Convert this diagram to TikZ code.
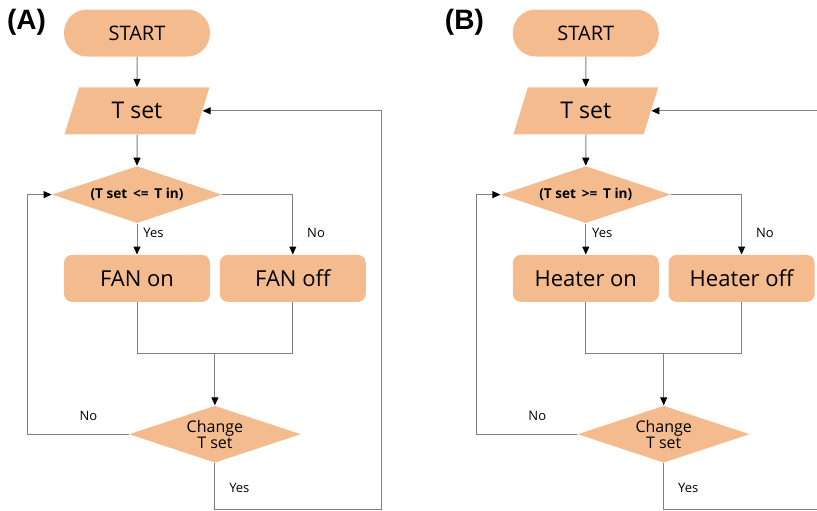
\documentclass[tikz,border=0pt]{standalone}
\usepackage{fontspec}
\setmainfont{Open Sans}
\newfontfamily\panelfont{Liberation Sans}
\usetikzlibrary{arrows.meta}
\usetikzlibrary{calc}
\usetikzlibrary{positioning}
\usetikzlibrary{shapes.geometric}

\definecolor{boxfill}{HTML}{F4BC8E}
\definecolor{linegray}{HTML}{808080}

\tikzset{
  startbox/.style={fill=boxfill, rounded corners=11.5pt, minimum width=73pt, minimum height=23.5pt, inner sep=0pt, font=\fontsize{10}{12}\selectfont},
  inputbox/.style={fill=boxfill, trapezium, trapezium left angle=69, trapezium right angle=111, trapezium stretches=true, minimum width=72.5pt, minimum height=23.5pt, inner sep=0pt, font=\fontsize{11.5}{13}\selectfont},
  testbox/.style={fill=boxfill, diamond, aspect=3, minimum width=85pt, minimum height=28.5pt, inner sep=0pt, font=\bfseries\fontsize{6.8}{8}\selectfont},
  actbox/.style={fill=boxfill, rounded corners=4pt, minimum width=73pt, minimum height=23.5pt, inner sep=0pt, font=\fontsize{11}{13}\selectfont},
  changebox/.style={fill=boxfill, diamond, aspect=3, minimum width=86pt, minimum height=28.5pt, inner sep=0pt, align=center, font=\fontsize{8}{8}\selectfont},
  flowlabel/.style={inner sep=0pt, font=\fontsize{6.5}{8}\selectfont},
  panellabel/.style={inner sep=0pt, font=\panelfont\bfseries\fontsize{14}{16}\selectfont},
  flowline/.style={draw=linegray, line width=0.5pt},
  flowarrow/.style={flowline, -{Triangle[length=4pt, width=3.5pt, color=black]}},
}

\begin{document}
\begin{tikzpicture}[x=0.5pt, y=-0.5pt]
  \clip (0,0) rectangle (817,510);

  % (A) fan
  \node [startbox] (aStart) at (137,33) {START};
  \node [panellabel] (aLabel) at ([xshift=-18.5pt, yshift=-6.5pt]aStart.north west) {(A)};
  \node [inputbox, below=15pt of aStart] (aTset) {T set};
  \node [testbox, below=15.5pt of aTset] (aTest) {(T set \,<=\, T in)};
  \node [actbox, below=15.5pt of aTest] (aOn) {FAN on};
  \node [actbox, right=4.5pt of aOn] (aOff) {FAN off};
  \coordinate (aMid) at ($(aOn.south)!0.5!(aOff.south)$);
  \coordinate [below=25.5pt of aMid] (aJoin);
  \node [changebox, below=26pt of aJoin] (aChange) {Change\\T set};
  \coordinate [below=23pt of aChange] (aBottom);
  \coordinate [right=7.5pt of aOff.east] (aRight);
  \coordinate [left=12pt of aTest.west] (aLeft);

  \node [flowlabel, anchor=west] (aYes) at ([xshift=3pt, yshift=-4.5pt]aTest.south) {Yes};
  \node [flowlabel, anchor=west] (aNo) at ([xshift=7pt, yshift=11pt]aOff.north) {No};
  \node [flowlabel] (aNoBack) at ([xshift=-20pt, yshift=9pt]aChange.west) {No};
  \node [flowlabel, anchor=west] (aYesBack) at ([xshift=7pt, yshift=-12.5pt]aChange.south) {Yes};

  \draw [flowarrow] (aStart) -- (aTset);
  \draw [flowarrow] (aTset) -- (aTest);
  \draw [flowarrow] (aTest) -- (aOn);
  \draw [flowarrow] (aTest.east) -| (aOff);
  \draw [flowline] (aOn) |- (aJoin) -| (aOff);
  \draw [flowarrow] (aJoin) -- (aChange);
  \draw [flowarrow] (aChange.west) -| (aLeft) -- (aTest.west);
  \draw [flowarrow] (aChange.south) -- (aBottom) -| (aRight) |- (aTset.east);

  % (B) heater
  \node [startbox, right=151pt of aStart] (bStart) {START};
  \node [panellabel] (bLabel) at ([xshift=-24pt, yshift=-6.5pt]bStart.north west) {(B)};
  \node [inputbox, below=15pt of bStart] (bTset) {T set};
  \node [testbox, below=15.5pt of bTset] (bTest) {(T set \,>=\, T in)};
  \node [actbox, below=15.5pt of bTest] (bOn) {Heater on};
  \node [actbox, right=4.5pt of bOn] (bOff) {Heater off};
  \coordinate (bMid) at ($(bOn.south)!0.5!(bOff.south)$);
  \coordinate [below=25.5pt of bMid] (bJoin);
  \node [changebox, below=26pt of bJoin] (bChange) {Change\\T set};
  \coordinate [below=23pt of bChange] (bBottom);
  \coordinate [right=7.5pt of bOff.east] (bRight);
  \coordinate [left=12pt of bTest.west] (bLeft);

  \node [flowlabel, anchor=west] (bYes) at ([xshift=3pt, yshift=-4.5pt]bTest.south) {Yes};
  \node [flowlabel, anchor=west] (bNo) at ([xshift=7pt, yshift=11pt]bOff.north) {No};
  \node [flowlabel] (bNoBack) at ([xshift=-20pt, yshift=9pt]bChange.west) {No};
  \node [flowlabel, anchor=west] (bYesBack) at ([xshift=7pt, yshift=-12.5pt]bChange.south) {Yes};

  \draw [flowarrow] (bStart) -- (bTset);
  \draw [flowarrow] (bTset) -- (bTest);
  \draw [flowarrow] (bTest) -- (bOn);
  \draw [flowarrow] (bTest.east) -| (bOff);
  \draw [flowline] (bOn) |- (bJoin) -| (bOff);
  \draw [flowarrow] (bJoin) -- (bChange);
  \draw [flowarrow] (bChange.west) -| (bLeft) -- (bTest.west);
  \draw [flowarrow] (bChange.south) -- (bBottom) -| (bRight) |- (bTset.east);
\end{tikzpicture}
\end{document}
